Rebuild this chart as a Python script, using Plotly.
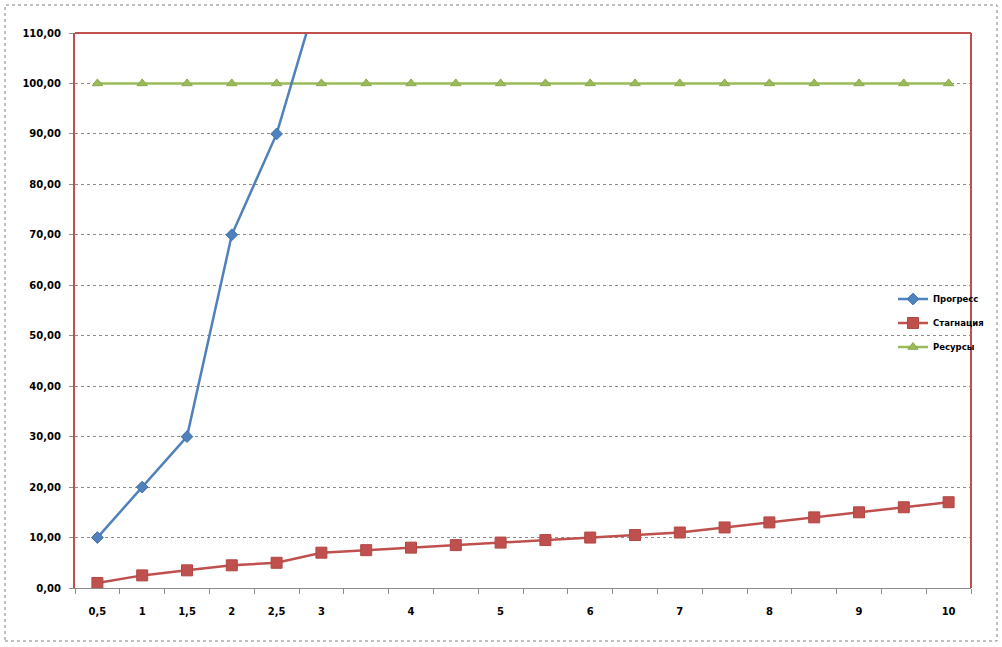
import plotly.graph_objects as go

x_vals = [0.5, 1, 1.5, 2, 2.5, 3, 3.5, 4, 4.5, 5, 5.5, 6, 6.5, 7, 7.5, 8, 8.5, 9, 9.5, 10]
tick_vals = [0.5, 1, 1.5, 2, 2.5, 3, 4, 5, 6, 7, 8, 9, 10]
tick_text = ["0,5", "1", "1,5", "2", "2,5", "3", "4", "5", "6", "7", "8", "9", "10"]

progress = [10, 20, 30, 70, 90, 120] + [None] * 14
stagnation = [1, 2.5, 3.5, 4.5, 5, 7, 7.5, 8, 8.5, 9, 9.5, 10, 10.5, 11, 12, 13, 14, 15, 16, 17]
resources = [100] * 20

names = ["Прогресс", "Стагнация", "Ресурсы"]
colors = ["#4F81BD", "#C0504D", "#9BBB59"]

fig = go.Figure()
fig.add_trace(go.Scatter(
    x=x_vals, y=resources, name=names[2], mode="lines+markers", legendrank=3, legendgroup="g3",
    line=dict(color=colors[2], width=2.5),
    marker=dict(symbol="triangle-up", size=9, color=colors[2], line=dict(color="#8AA84E", width=1)),
))
fig.add_trace(go.Scatter(
    x=x_vals, y=stagnation, name=names[1], mode="lines+markers", legendrank=2, legendgroup="g2",
    line=dict(color=colors[1], width=2.5),
    marker=dict(symbol="square", size=11, color=colors[1], line=dict(color="#B04845", width=1)),
))
fig.add_trace(go.Scatter(
    x=x_vals, y=progress, name=names[0], mode="lines+markers", legendrank=1, legendgroup="g1",
    line=dict(color=colors[0], width=2.5),
    marker=dict(symbol="diamond", size=9, color=colors[0], line=dict(color="#3F6FA8", width=1)),
))

W, H = 1002, 647
L, R, T, B = 75, 31, 33, 59
pw, ph = W - L - R, H - T - B

fig.update_layout(
    width=W, height=H,
    margin=dict(l=L, r=R, t=T, b=B),
    paper_bgcolor="white", plot_bgcolor="white",
    separators=", ",
    font=dict(family="DejaVu Sans", color="black", size=10),
    showlegend=True,
    legend=dict(
        x=(893 - L) / pw, y=(588 - 323) / ph, xanchor="left", yanchor="middle",
        bgcolor="rgba(0,0,0,0)", font=dict(size=8.5, weight="bold"),
        tracegroupgap=5, itemwidth=30,
    ),
    xaxis=dict(
        range=[0.25, 10.25], tickmode="array", tickvals=tick_vals, ticktext=tick_text,
        ticks="", showgrid=False, zeroline=False,
        showline=True, linecolor="#8C8C8C", linewidth=1,
        tickfont=dict(size=10, weight="bold"), ticklabelstandoff=14,
        minor=dict(tick0=0.25, dtick=0.5, ticks="outside", ticklen=5, tickcolor="#8C8C8C", showgrid=False),
    ),
    yaxis=dict(
        range=[0, 110], dtick=10, tickformat=".2f",
        ticks="outside", ticklen=4, tickcolor="#8C8C8C",
        showgrid=True, gridcolor="#8C8C8C", gridwidth=1, griddash="dot",
        zeroline=False, showline=True, linecolor="#C0504D", linewidth=2,
        tickfont=dict(size=10, weight="bold"), ticklabelstandoff=6,
    ),
    shapes=[
        dict(type="line", xref="paper", yref="paper", x0=0, x1=1, y0=1, y1=1,
             line=dict(color="#C0504D", width=2)),
        dict(type="line", xref="paper", yref="paper", x0=1, x1=1, y0=0, y1=1,
             line=dict(color="#C0504D", width=2)),
        dict(type="rect", xref="paper", yref="paper",
             x0=(5 - L) / pw, x1=(997 - L) / pw, y0=(H - B - 641) / ph, y1=(H - B - 5) / ph,
             line=dict(color="#808080", width=1, dash="dot"), fillcolor="rgba(0,0,0,0)"),
    ],
)

fig.write_html("out.html", config={"displayModeBar": False},
               post_script="document.body.style.margin='0';document.body.style.overflow='hidden';")
